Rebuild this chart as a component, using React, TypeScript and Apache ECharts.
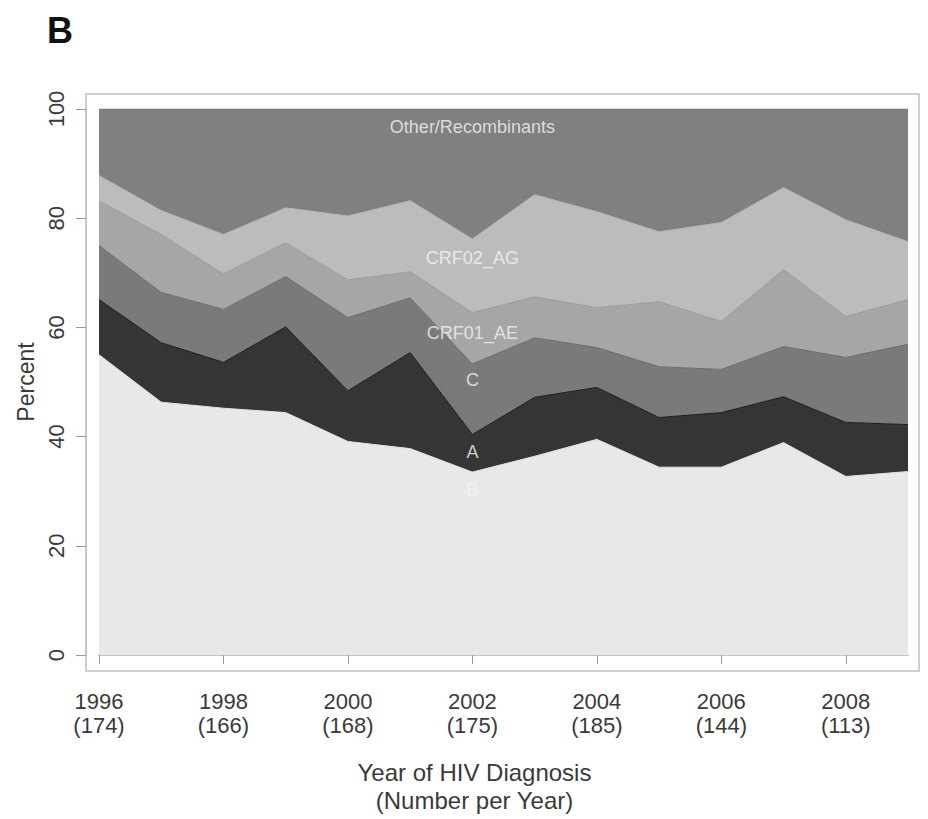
import React, { useEffect, useRef } from "react";
import * as echarts from "echarts";

// Years of HIV diagnosis (x categories)
const years = ["1996","1997","1998","1999","2000","2001","2002","2003","2004","2005","2006","2007","2008","2009"];
// Number of diagnoses shown under the labelled years
const tickYears = ["1996","1998","2000","2002","2004","2006","2008"];
const tickCounts = [174, 166, 168, 175, 185, 144, 113];

// Percent by subtype (stacked from bottom to top)
const subtypeB = [55.0, 46.3, 45.2, 44.4, 39.1, 37.8, 33.5, 36.4, 39.5, 34.4, 34.4, 38.9, 32.7, 33.6];
const subtypeA = [10.1, 10.9, 8.4, 15.7, 9.3, 17.6, 6.9, 10.8, 9.5, 9.1, 10.0, 8.4, 9.9, 8.6];
const subtypeC = [9.9, 9.2, 9.7, 9.2, 13.4, 10.0, 12.9, 10.9, 7.3, 9.3, 7.9, 9.2, 11.9, 14.7];
const crf01AE = [8.2, 10.6, 6.5, 6.2, 6.9, 4.8, 9.4, 7.5, 7.3, 11.9, 8.8, 14.1, 7.5, 8.2];
const crf02AG = [4.6, 4.4, 7.2, 6.4, 11.7, 13.0, 13.5, 18.7, 17.6, 12.8, 18.1, 15.0, 17.7, 10.6];
const otherRecombinants = [12.2, 18.6, 23.0, 18.1, 19.6, 16.8, 23.8, 15.7, 18.8, 22.5, 20.8, 14.4, 20.3, 24.3];

// In-plot labels (year, percent position)
const labelNames = ["Other/Recombinants", "CRF02_AG", "CRF01_AE", "C", "A", "B"];
const labelYears = ["2002", "2002", "2002", "2002", "2002", "2002"];
const labelValues = [96.7, 72.8, 59.0, 50.3, 37.1, 30.3];

const yTicks = { min: 0, max: 100, interval: 20 };

const FONT = '"Liberation Sans", Arial, Helvetica, sans-serif';

export default function App() {
  const ref = useRef<HTMLDivElement>(null);

  useEffect(() => {
    if (!ref.current) return;
    const chart = echarts.init(ref.current, undefined, { renderer: "svg" });

    const layers = [
      { name: "B", data: subtypeB, fill: "#e8e8e8", line: "#e0e0e0" },
      { name: "A", data: subtypeA, fill: "#353535", line: "#1a1a1a" },
      { name: "C", data: subtypeC, fill: "#7a7a7a", line: "#6a6a6a" },
      { name: "CRF01_AE", data: crf01AE, fill: "#a6a6a6", line: "#9a9a9a" },
      { name: "CRF02_AG", data: crf02AG, fill: "#bcbcbc", line: "#b2b2b2" },
      { name: "Other/Recombinants", data: otherRecombinants, fill: "#808080", line: "#7a7a7a" },
    ];

    const countFor = (y: string) => {
      const i = tickYears.indexOf(y);
      return i >= 0 ? `{yr|${y}}\n{n|(${tickCounts[i]})}` : "";
    };

    chart.setOption({
      animation: false,
      backgroundColor: "#ffffff",
      title: {
        text: "B",
        left: 47,
        top: 12,
        padding: 0,
        textStyle: { fontFamily: FONT, fontSize: 36, fontWeight: "bold", color: "#111" },
      },
      grid: { left: 99, right: 20, top: 109, bottom: 163, containLabel: false },
      xAxis: {
        type: "category",
        data: years,
        boundaryGap: false,
        offset: 15,
        axisLine: { show: true, lineStyle: { color: "#c4c4c4", width: 2 } },
        axisTick: { show: true, interval: 1, length: 9, lineStyle: { color: "#999" } },
        axisLabel: {
          interval: 1,
          margin: 19,
          fontFamily: FONT,
          fontSize: 22,
          color: "#3a3a3a",
          formatter: (v: string) => countFor(v),
          rich: {
            yr: { fontFamily: FONT, fontSize: 22, lineHeight: 24, color: "#3a3a3a" },
            n: { fontFamily: FONT, fontSize: 22, lineHeight: 24, color: "#3a3a3a" },
          },
        },
        splitLine: { show: false },
        name: "Year of HIV Diagnosis\n(Number per Year)",
        nameLocation: "middle",
        nameGap: 88,
        nameTextStyle: {
          fontFamily: FONT,
          fontSize: 24,
          lineHeight: 28,
          color: "#3a3a3a",
          padding: [0, 58, 0, 0],
        },
      },
      yAxis: {
        type: "value",
        min: yTicks.min,
        max: yTicks.max,
        interval: yTicks.interval,
        offset: 13,
        axisLine: { show: true, lineStyle: { color: "#c4c4c4", width: 2 } },
        axisTick: { show: true, length: 10, lineStyle: { color: "#999" } },
        axisLabel: {
          rotate: 90,
          margin: 19,
          fontFamily: FONT,
          fontSize: 22,
          color: "#3a3a3a",
        },
        splitLine: { show: false },
        name: "Percent",
        nameLocation: "middle",
        nameRotate: 90,
        nameGap: 47,
        nameTextStyle: { fontFamily: FONT, fontSize: 23, color: "#3a3a3a" },
      },
      graphic: [
        {
          type: "rect",
          z: -1,
          silent: true,
          shape: { x: 86, y: 94, width: 833, height: 577 },
          style: { fill: "none", stroke: "#cfcfcf", lineWidth: 2 },
        },
      ],
      series: [
        ...layers.map((l) => ({
          name: l.name,
          type: "line",
          stack: "total",
          data: l.data,
          showSymbol: false,
          symbol: "none",
          lineStyle: { color: l.line, width: 1 },
          areaStyle: { color: l.fill, opacity: 1 },
          itemStyle: { color: l.fill },
          z: 2,
        })),
        {
          name: "labels",
          type: "scatter",
          symbolSize: 1,
          itemStyle: { color: "rgba(0,0,0,0)" },
          z: 5,
          data: labelNames.map((n, i) => ({ name: n, value: [labelYears[i], labelValues[i]] })),
          label: {
            show: true,
            position: "inside",
            formatter: (p: any) => p.name,
            fontFamily: FONT,
            fontSize: 18,
            color: "#f4f4f4",
          },
        },
      ],
    });

    return () => chart.dispose();
  }, []);

  return (
    <div
      ref={ref}
      style={{ position: "absolute", left: 0, top: 0, width: 928, height: 819 }}
    />
  );
}
